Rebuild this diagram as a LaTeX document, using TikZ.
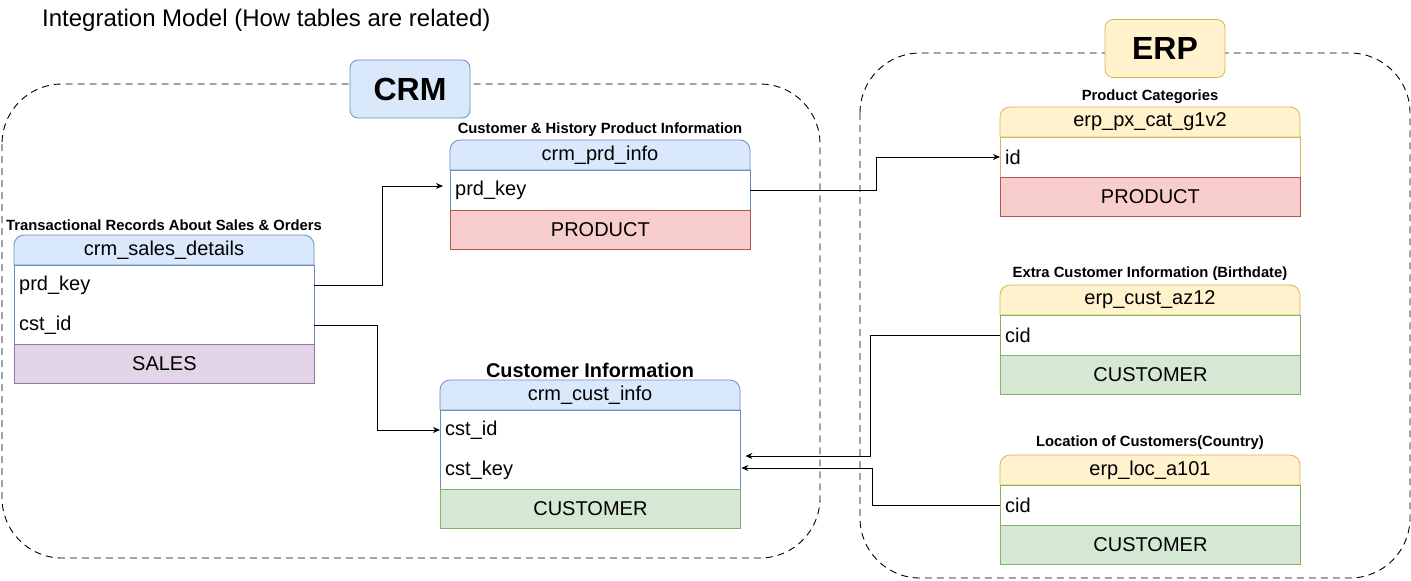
\documentclass[tikz,border=0pt]{standalone}
\usepackage{fontspec}
\setmainfont{Liberation Sans}
\usetikzlibrary{arrows.meta,calc}
\definecolor{blueF}{HTML}{DAE8FC}\definecolor{blueD}{HTML}{6C8EBF}
\definecolor{redF}{HTML}{F8CECC}\definecolor{redD}{HTML}{B85450}
\definecolor{purF}{HTML}{E1D5E7}\definecolor{purD}{HTML}{9673A6}
\definecolor{grnF}{HTML}{D5E8D4}\definecolor{grnD}{HTML}{82B366}
\definecolor{yelF}{HTML}{FFF2CC}\definecolor{yelD}{HTML}{D6B656}
\newcommand\fsz[1]{\fontsize{#1}{#1}\selectfont}
\tikzset{
  container/.style={draw=black, dash pattern=on 7pt off 5pt, line width=0.9pt, rounded corners=60pt},
  grouplabel/.style={rounded corners=8pt, minimum width=120pt, minimum height=58pt, font=\fsz{32}\bfseries, line width=0.8pt},
  hdrtext/.style={font=\fsz{20}, inner sep=0pt},
  fieldrow/.style={anchor=west, text width=290pt, align=left, inner xsep=5pt, inner ysep=0pt, minimum height=40pt, font=\fsz{20}},
  footer/.style={anchor=north west, minimum width=300pt, minimum height=39pt, font=\fsz{20}, line width=0.8pt},
  tcaption/.style={font=\fsz{14.8}\bfseries, inner sep=0pt},
  conn/.style={draw=black, line width=0.9pt, -{Stealth[length=7pt,width=6pt]}},
}
\begin{document}
\begin{tikzpicture}[x=1pt,y=-1pt]
\useasboundingbox (0,0) rectangle (1411,581);
% title
\node[font=\fsz{24}, anchor=west, inner sep=0pt] (title) at (42,20) {Integration Model (How tables are related)};
% containers
\draw[container] (2,84) rectangle (820,558);
\draw[container] (860,53) rectangle (1410,578);
\node[grouplabel, draw=blueD, fill=blueF] (crm) at (410,89) {CRM};
\node[grouplabel, draw=yelD, fill=yelF] (erp) at (1165,48.5) {ERP};

% ---- crm_sales_details
\path[draw=blueD, fill=blueF, line width=0.8pt] (14,265) [rounded corners=10pt] -- (14,235) -- (314,235) [sharp corners] -- (314,265) -- cycle;
\node[hdrtext] (sdh) at (164,250) {crm\_sales\_details};
\draw[draw=blueD, fill=white, line width=0.8pt] (14,265) rectangle (314,344);
\node[fieldrow] (sdprd) at (14,285) {prd\_key};
\node[fieldrow] (sdcst) at (14,325) {cst\_id};
\node[footer, draw=purD, fill=purF] (sdf) at (14,344) {SALES};
\node[tcaption] (sdc) at (164,225) {Transactional Records About Sales \& Orders};

% ---- crm_prd_info
\path[draw=blueD, fill=blueF, line width=0.8pt] (450,170) [rounded corners=10pt] -- (450,140) -- (750,140) [sharp corners] -- (750,170) -- cycle;
\node[hdrtext] (pih) at (600,155) {crm\_prd\_info};
\draw[draw=blueD, fill=white, line width=0.8pt] (450,170) rectangle (750,210);
\node[fieldrow] (pik) at (450,190) {prd\_key};
\node[footer, draw=redD, fill=redF] (pif) at (450,210) {PRODUCT};
\node[tcaption] (pic) at (600,130) {Customer \& History Product Information};

% ---- crm_cust_info
\path[draw=blueD, fill=blueF, line width=0.8pt] (440,410) [rounded corners=10pt] -- (440,380) -- (740,380) [sharp corners] -- (740,410) -- cycle;
\node[hdrtext] (cih) at (590,395) {crm\_cust\_info};
\draw[draw=blueD, fill=white, line width=0.8pt] (440,410) rectangle (740,489);
\node[fieldrow] (ciid) at (440,430) {cst\_id};
\node[fieldrow] (cikey) at (440,470) {cst\_key};
\node[footer, draw=grnD, fill=grnF] (cif) at (440,489) {CUSTOMER};
\node[font=\fsz{19.9}\bfseries, inner sep=0pt] (cic) at (590,370) {Customer Information};

% ---- erp_px_cat_g1v2
\path[draw=yelD, fill=yelF, line width=0.8pt] (1000,137) [rounded corners=10pt] -- (1000,107) -- (1300,107) [sharp corners] -- (1300,137) -- cycle;
\node[hdrtext] (pxh) at (1150,122) {erp\_px\_cat\_g1v2};
\draw[draw=yelD, fill=white, line width=0.8pt] (1000,137) rectangle (1300,177);
\node[fieldrow] (pxid) at (1000,157) {id};
\node[footer, draw=redD, fill=redF] (pxf) at (1000,177) {PRODUCT};
\node[tcaption] (pxc) at (1150,97) {Product Categories};

% ---- erp_cust_az12
\path[draw=yelD, fill=yelF, line width=0.8pt] (1000,315) [rounded corners=10pt] -- (1000,285) -- (1300,285) [sharp corners] -- (1300,315) -- cycle;
\node[hdrtext] (azh) at (1150,300) {erp\_cust\_az12};
\draw[draw=grnD, fill=white, line width=0.8pt] (1000,315) rectangle (1300,355);
\node[fieldrow] (azcid) at (1000,335) {cid};
\node[footer, draw=grnD, fill=grnF] (azf) at (1000,355) {CUSTOMER};
\node[tcaption] (azc) at (1150,274) {Extra Customer Information (Birthdate)};

% ---- erp_loc_a101
\path[draw=yelD, fill=yelF, line width=0.8pt] (1000,485) [rounded corners=10pt] -- (1000,455) -- (1300,455) [sharp corners] -- (1300,485) -- cycle;
\node[hdrtext] (loh) at (1150,470) {erp\_loc\_a101};
\draw[draw=grnD, fill=white, line width=0.8pt] (1000,485) rectangle (1300,525);
\node[fieldrow] (locid) at (1000,505) {cid};
\node[footer, draw=grnD, fill=grnF] (lof) at (1000,525) {CUSTOMER};
\node[tcaption] (loc) at (1150,443) {Location of Customers(Country)};

% ---- connectors
\draw[conn] (sdprd.east) -- ++(68,0) |- ([xshift=-7pt,yshift=4pt]pik.west);
\draw[conn] (sdcst.east) -- ++(63,0) |- (ciid.west);
\draw[conn] (pik.east) -- ++(126,0) |- (pxid.west);
\draw[conn] (azcid.west) -- ++(-130,0) |- ([xshift=5pt,yshift=14pt]cikey.east);
\draw[conn] (locid.west) -- ++(-128,0) |- ([xshift=1pt,yshift=2pt]cikey.east);
\end{tikzpicture}
\end{document}
